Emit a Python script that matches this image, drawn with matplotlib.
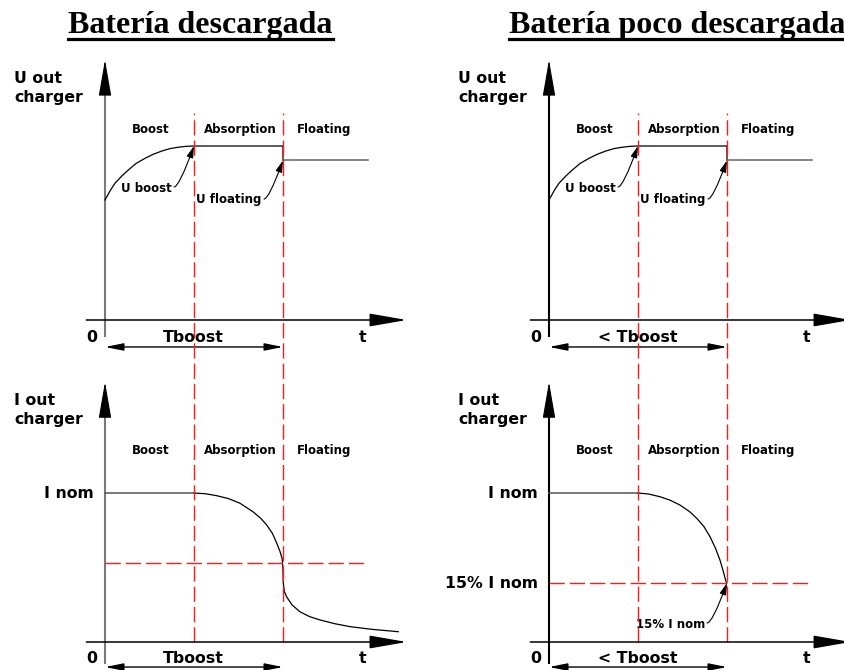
import matplotlib
matplotlib.use('Agg')
import matplotlib.pyplot as plt
from matplotlib.lines import Line2D

W, H, DPI = 844, 670, 100

# ---------------- data (t in units of Tboost, U in units of U boost, I in units of I nom)
titles = ['Batería descargada', 'Batería poco descargada']
phase_names = ['Boost', 'Absorption', 'Floating']
phase_bounds = [1.0, 2.0]
t_end = 2.96
u_boost_t = [0.0, 0.06, 0.112, 0.19, 0.262, 0.35, 0.449, 0.54, 0.637, 0.73, 0.824, 0.91, 1.0]
u_boost_v = [0.69, 0.745, 0.786, 0.828, 0.862, 0.900, 0.929, 0.952, 0.971, 0.985, 0.993, 0.998, 1.0]
u_boost_level = 1.0
u_float_level = 0.917
i_nom_level = 1.0
iL_t = [1.0, 1.13, 1.255, 1.39, 1.517, 1.663, 1.75, 1.817, 1.88, 1.929, 1.965, 1.99, 1.999,
        2.003, 2.015, 2.04, 2.10, 2.19, 2.30, 2.416, 2.58, 2.753, 3.0, 3.296]
iL_v = [1.0, 0.995, 0.982, 0.962, 0.931, 0.874, 0.83, 0.785, 0.73, 0.664, 0.61, 0.56, 0.50,
        0.396, 0.34, 0.304, 0.25, 0.203, 0.17, 0.148, 0.123, 0.103, 0.085, 0.069]
iL_threshold = 0.53
iR_t = [1.0, 1.12, 1.247, 1.36, 1.472, 1.58, 1.66, 1.74, 1.809, 1.87, 1.921, 1.96, 1.989, 2.0]
iR_v = [1.0, 0.993, 0.975, 0.952, 0.919, 0.875, 0.830, 0.775, 0.707, 0.63, 0.550, 0.47, 0.405, 0.396]
iR_threshold = 0.396
time_labels = ['Tboost', '< Tboost']

# ---------------- layout
SX = 89.0           # px per Tboost
SY_U = 174.0        # px per U boost
SY_I = 149.0        # px per I nom
SANS = 'DejaVu Sans'
SERIF = 'Liberation Serif'
BIG = 11.3
SMALL = 8.5
RED = '#ff1a1a'

fig = plt.figure(figsize=(W / DPI, H / DPI), dpi=DPI)
fig.patch.set_facecolor('white')

ov = fig.add_axes([0, 0, 1, 1])
ov.set_xlim(0, W)
ov.set_ylim(H, 0)
ov.axis('off')


def make_panel(x0, y0, sy, vmin=-0.3, vmax=1.8, tmin=-1.2, tmax=3.6):
    left = (x0 + tmin * SX) / W
    width = (tmax - tmin) * SX / W
    bottom = (H - (y0 - vmin * sy)) / H
    height = (vmax - vmin) * sy / H
    ax = fig.add_axes([left, bottom, width, height])
    ax.set_xlim(tmin, tmax)
    ax.set_ylim(vmin, vmax)
    ax.axis('off')
    ax.patch.set_alpha(0)
    return ax


def arrow(ax, p0, p1, style, ms=10, lw=1.1, color='black'):
    ax.annotate('', xy=p1, xytext=p0,
                arrowprops=dict(arrowstyle=style, mutation_scale=ms, lw=lw,
                                color=color, shrinkA=0, shrinkB=0),
                annotation_clip=False)


def yaxis(ax, vbot, vtop, sy, color):
    head = 32.0 / sy
    ax.plot([0, 0], [vbot, vtop - head], color=color, lw=1.5, clip_on=False,
            solid_capstyle='butt')
    arrow(ax, (0, vtop - head), (0, vtop), AX_HEAD, lw=0.8)


def txt(x, y, s, size=BIG, ha='left', va='baseline'):
    ov.text(x, y, s, fontsize=size, fontweight='bold', family=SANS,
            ha=ha, va=va, color='black')


AX_HEAD = '-|>,head_length=2.3,head_width=0.4'
DBL_HEAD = '<|-|>,head_length=1.1,head_width=0.22'
SM_HEAD = '-|>,head_length=0.7,head_width=0.2'

for col, dx in enumerate([0, 444]):
    x0 = 105 + dx
    yaxis_color = '#7a7a7a' if col == 0 else 'black'

    # ---------- top panel (voltage)
    axU = make_panel(x0, 320, SY_U)
    arrow(axU, (-0.21, 0), (3.39, 0), AX_HEAD)
    yaxis(axU, -0.10, 1.495, SY_U, yaxis_color)
    axU.plot(u_boost_t + [phase_bounds[1], phase_bounds[1]],
             u_boost_v + [u_boost_level, u_float_level], color='black', lw=0.9,
             solid_joinstyle='miter')
    axU.plot([phase_bounds[1], t_end], [u_float_level, u_float_level],
             color='#666666', lw=1.1)
    arrow(axU, (0, -0.155), (phase_bounds[1], -0.155), DBL_HEAD, lw=1.0)
    # annotation arrows
    axU.annotate('', xy=(phase_bounds[0], u_boost_level), xytext=(174 + dx, 187),
                 textcoords=ov.transData,
                 arrowprops=dict(arrowstyle=SM_HEAD, mutation_scale=10, lw=0.8,
                                 color='black', shrinkA=0, shrinkB=0,
                                 connectionstyle='angle3,angleA=0,angleB=70'),
                 annotation_clip=False)
    axU.annotate('', xy=(phase_bounds[1], u_float_level), xytext=(264 + dx, 199),
                 textcoords=ov.transData,
                 arrowprops=dict(arrowstyle=SM_HEAD, mutation_scale=10, lw=0.8,
                                 color='black', shrinkA=0, shrinkB=0,
                                 connectionstyle='angle3,angleA=0,angleB=70'),
                 annotation_clip=False)

    # ---------- bottom panel (current)
    axI = make_panel(x0, 642, SY_I)
    arrow(axI, (-0.21, 0), (3.39, 0), AX_HEAD)
    yaxis(axI, -0.145, 1.745, SY_I, yaxis_color)
    axI.plot([0, phase_bounds[0]], [i_nom_level, i_nom_level], color='#555555', lw=1.1)
    if col == 0:
        axI.plot(iL_t, iL_v, color='black', lw=0.9)
        thr = iL_threshold
    else:
        axI.plot(iR_t, iR_v, color='black', lw=0.9)
        thr = iR_threshold
        axI.annotate('', xy=(phase_bounds[1], thr), xytext=(707, 623),
                     textcoords=ov.transData,
                     arrowprops=dict(arrowstyle=SM_HEAD, mutation_scale=10, lw=0.8,
                                     color='black', shrinkA=0, shrinkB=0,
                                     connectionstyle='angle3,angleA=0,angleB=70'),
                     annotation_clip=False)
    axI.plot([0, t_end], [thr, thr], color=RED, lw=1.0, ls=(0, (11, 3.6)))
    for tb in phase_bounds:
        axI.plot([tb, tb], [0, 3.55], color=RED, lw=1.0, ls=(0, (11, 3.6)),
                 clip_on=False)
    arrow(axI, (0, -0.168), (phase_bounds[1], -0.168), DBL_HEAD, lw=1.0)

    # ---------- labels
    lx = 14 + dx
    txt(lx, 83, 'U out')
    txt(lx, 102, 'charger')
    txt(lx, 405, 'I out')
    txt(lx, 424, 'charger')
    for name, cx in zip(phase_names, [150.5, 240, 324.5]):
        txt(cx + dx, 133, name, size=SMALL, ha='center')
        txt(cx + dx, 454, name, size=SMALL, ha='center')
    txt(121 + dx, 192, 'U boost', size=SMALL)
    txt(196 + dx, 203, 'U floating', size=SMALL)
    for by in (342, 663):
        txt(92 + dx, by, '0', ha='center')
        txt(193.5 + dx, by, time_labels[col], ha='center')
        txt(363 + dx, by, 't', ha='center')
    txt(94 + dx, 498, 'I nom', ha='right')
    if col == 1:
        txt(538, 588, '15% I nom', ha='right')
        txt(636, 628, '15% I nom', size=SMALL)

# titles with underline
t1 = ov.text(200.5, 33, titles[0], fontsize=23, fontweight='bold', family=SERIF,
             ha='center', va='baseline')
t2 = ov.text(509, 33, titles[1], fontsize=23, fontweight='bold', family=SERIF,
             ha='left', va='baseline')
fig.canvas.draw()
inv = ov.transData.inverted()
for t in (t1, t2):
    bb = t.get_window_extent()
    xa, _ = inv.transform((bb.x0, 0))
    xb, _ = inv.transform((bb.x1, 0))
    ov.add_line(Line2D([xa, xb], [39, 39], color='black', lw=2.3))

fig.savefig('out.png', dpi=DPI, facecolor='white')
